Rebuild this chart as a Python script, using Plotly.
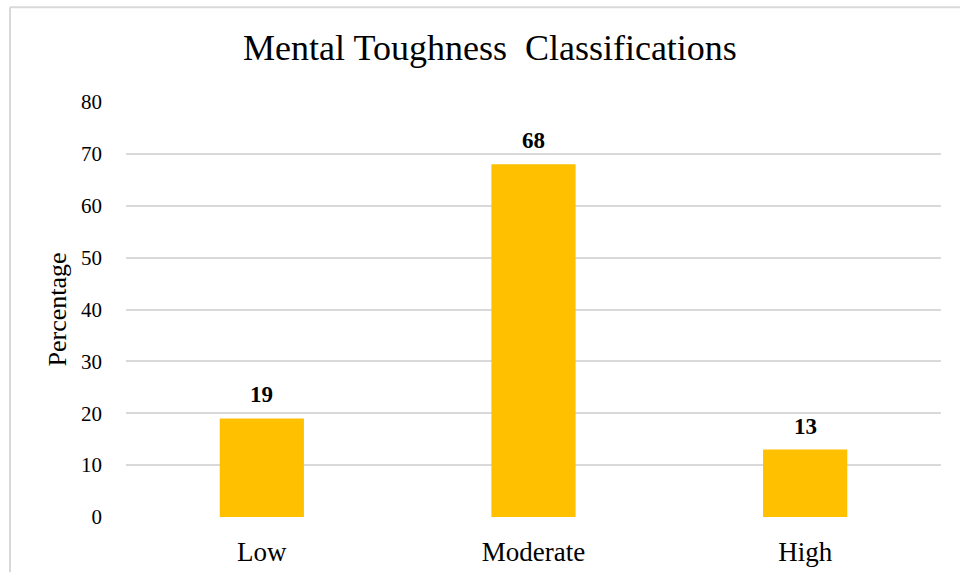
import plotly.graph_objects as go

categories = ["Low", "Moderate", "High"]
values = [19, 68, 13]
y_ticks = [0, 10, 20, 30, 40, 50, 60, 70, 80]

SERIF = "Liberation Serif, Times New Roman, serif"

fig = go.Figure()
fig.add_trace(go.Bar(
    x=categories, y=values,
    marker=dict(color="#FFC000", line=dict(width=0)),
    width=0.31,
    hoverinfo="x+y",
))

for c, v in zip(categories, values):
    fig.add_annotation(x=c, y=v, text=f"<b>{v}</b>", showarrow=False,
                       xanchor="center", yanchor="bottom", yshift=9,
                       font=dict(family=SERIF, size=23, color="#000000"))

W, H = 960, 579
L, R, T, B = 126, 19, 102, 56
pw, ph = W - L - R, H - T - B

def px_x(x):
    return (x - L) / pw

def px_y(y):
    return (H - B - y) / ph

fig.update_layout(
    width=W, height=H,
    margin=dict(l=L, r=R, t=T, b=B),
    paper_bgcolor="white", plot_bgcolor="white",
    showlegend=False,
    title=dict(text="Mental Toughness  Classifications", x=490 / W, xanchor="center",
               y=1 - 47 / H, yanchor="middle",
               font=dict(family=SERIF, size=36, color="#000000")),
    xaxis=dict(showgrid=False, showline=False, ticks="", zeroline=False,
               tickfont=dict(family=SERIF, size=27, color="#000000"), ticklabelstandoff=16),
    yaxis=dict(range=[0, 80], tickvals=y_ticks, showgrid=True, gridcolor="#d9d9d9",
               gridwidth=2, zeroline=False, showline=False, ticks="",
               tickfont=dict(family=SERIF, size=21, color="#000000"), ticklabelstandoff=23,
               title=dict(text="Percentage", font=dict(family=SERIF, size=26, color="#000000"),
                          standoff=6)),
    bargap=0.69,
    shapes=[
        dict(type="line", xref="paper", yref="paper", x0=px_x(10), x1=px_x(960),
             y0=px_y(6), y1=px_y(6), line=dict(color="#d9d9d9", width=2)),
        dict(type="line", xref="paper", yref="paper", x0=px_x(10), x1=px_x(10),
             y0=px_y(6), y1=px_y(H), line=dict(color="#d9d9d9", width=2)),
    ],
)

fig.write_html("out.html", config={"displayModeBar": False},
               post_script="document.body.style.margin='0';")
